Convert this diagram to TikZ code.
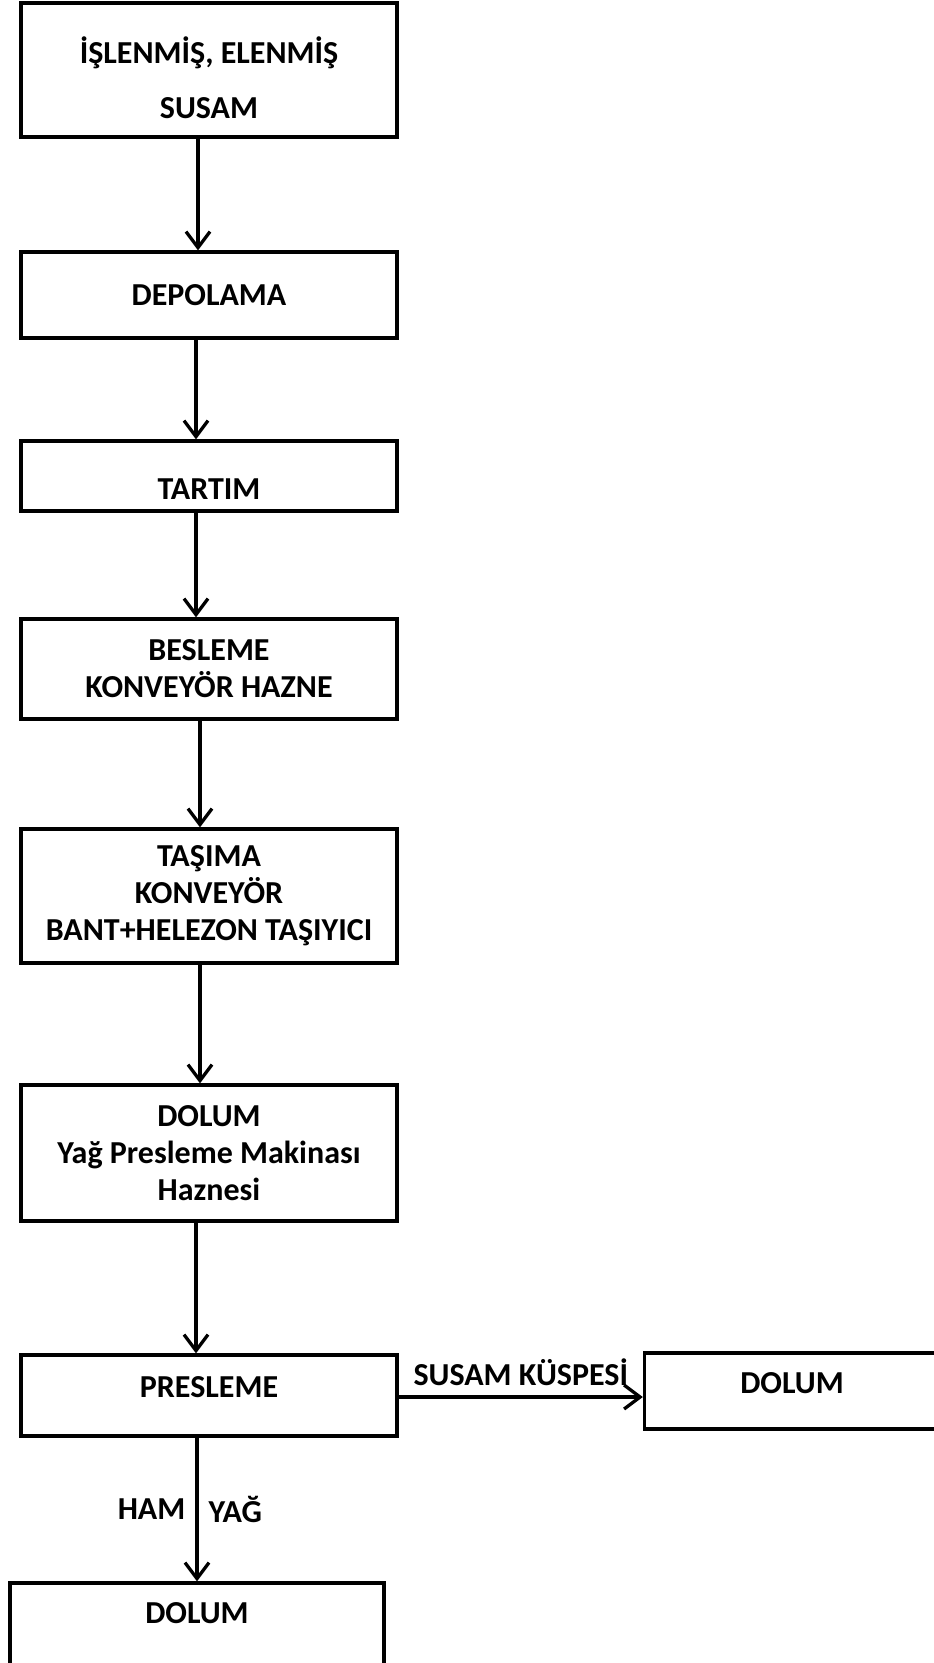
\documentclass[tikz,border=0pt]{standalone}
\usepackage{fontspec}
\setmainfont{Carlito}
\usepackage{tikz}
\usetikzlibrary{arrows.meta, positioning}

\begin{document}
\begin{tikzpicture}[x=1pt,y=-1pt,on grid,line width=3.3pt,
    >={Straight Barb[length=16pt,width=24pt]},
    font=\fontsize{32}{37}\selectfont\bfseries]
    \tikzstyle{process}=[shape=rectangle,draw,minimum width=376pt,align=center,inner sep=0pt]
    \tikzstyle{flowlabel}=[inner sep=10pt]

    \useasboundingbox (0,0) rectangle (934,1663);

    \node[process, minimum height=134pt, text height=100pt, text depth=4pt] (A0) at (209,70) {İŞLENMİŞ, ELENMİŞ\\[18pt]SUSAM};
    \node[process, minimum height=86pt, below=225pt of A0] (A1) {DEPOLAMA};
    \node[process, minimum height=70pt, text height=46pt, below=181pt of A1] (A2) {TARTIM};
    \node[process, minimum height=100pt, below=193pt of A2] (A3) {BESLEME\\KONVEYÖR HAZNE};
    \node[process, minimum height=134pt, below=227pt of A3] (A4) {TAŞIMA\\KONVEYÖR\\BANT+HELEZON TAŞIYICI};
    \node[process, minimum height=136pt, below=257pt of A4] (A5) {DOLUM\\Yağ Presleme Makinası\\Haznesi};
    \node[process, minimum height=81pt, text depth=18pt, below=242.5pt of A5] (A6) {PRESLEME};
    \node[process, minimum width=295pt, minimum height=76pt, text depth=16pt, right=583pt of A6, yshift=4.5pt] (B0) {DOLUM};
    \node[process, minimum width=374pt, minimum height=82pt, text depth=22pt, below=228.5pt of A6, xshift=-12pt] (B1) {DOLUM};

    \path[->]
    ([xshift=-11pt]A0.south) edge ([xshift=-11pt]A1.north)
    ([xshift=-13pt]A1.south) edge ([xshift=-13pt]A2.north)
    ([xshift=-13pt]A2.south) edge ([xshift=-13pt]A3.north)
    ([xshift=-9pt]A3.south) edge ([xshift=-9pt]A4.north)
    ([xshift=-9pt]A4.south) edge ([xshift=-9pt]A5.north)
    ([xshift=-13pt]A5.south) edge ([xshift=-13pt]A6.north)
    ([yshift=-1.5pt]A6.east) edge node[above, flowlabel] {SUSAM KÜSPESİ} ([yshift=-1.5pt]A6.east -| B0.west)
    (A6.south -| B1.north) edge node[left, flowlabel] {HAM} node[right, flowlabel] {YAĞ} (B1.north)
    ;
\end{tikzpicture}
\end{document}
